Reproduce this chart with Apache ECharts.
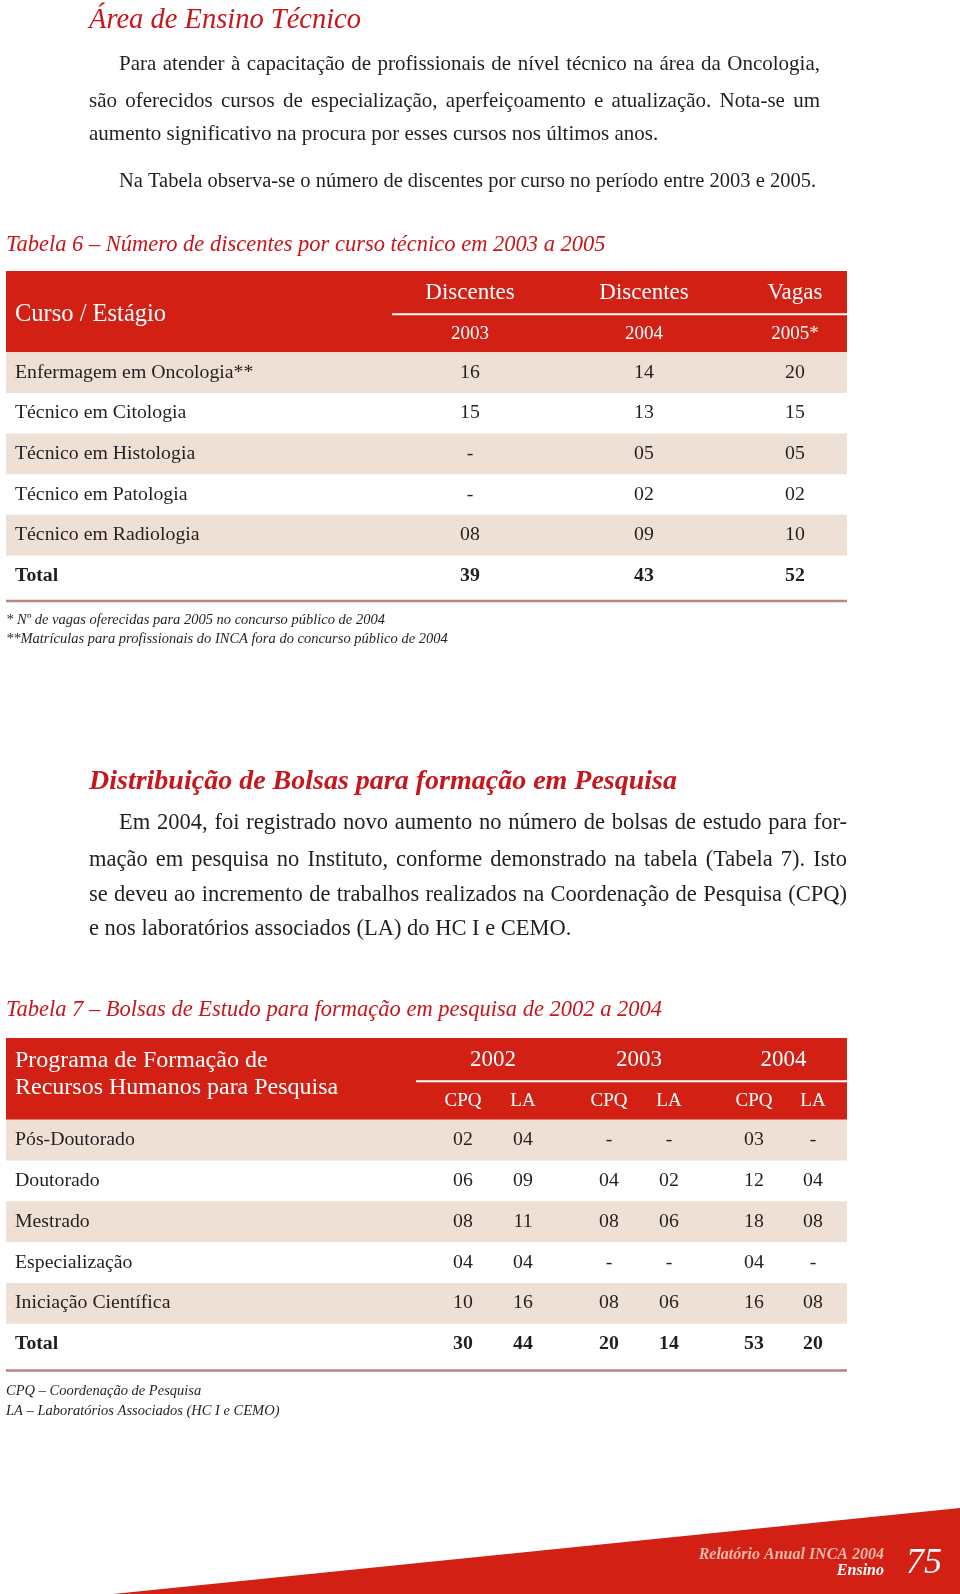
<!DOCTYPE html>
<html>
<head>
<meta charset="utf-8">
<title>Ensino Técnico - Tabelas 6 e 7</title>
<script src="https://cdn.jsdelivr.net/npm/echarts@6/dist/echarts.min.js"></script>
<style>
  html, body { margin: 0; background: #fff; }
  #chart { width: 960px; height: 1594px; }
</style>
</head>
<body>
<div id="chart"></div>
<script>
// Tabela 6 - discentes por curso técnico
const cursos = ['Enfermagem em Oncologia**', 'Técnico em Citologia', 'Técnico em Histologia', 'Técnico em Patologia', 'Técnico em Radiologia', 'Total']
const discentes2003 = [16, 15, null, null, 8, 39]
const discentes2004 = [14, 13, 5, 2, 9, 43]
const vagas2005 = [20, 15, 5, 2, 10, 52]
const cabecalho6 = ['Discentes', 'Discentes', 'Vagas']
const anos6 = ['2003', '2004', '2005*']

// Tabela 7 - bolsas de estudo
const programas = ['Pós-Doutorado', 'Doutorado', 'Mestrado', 'Especialização', 'Iniciação Científica', 'Total']
const cpq2002 = [2, 6, 8, 4, 10, 30]
const la2002 = [4, 9, 11, 4, 16, 44]
const cpq2003 = [null, 4, 8, null, 8, 20]
const la2003 = [null, 2, 6, null, 6, 14]
const cpq2004 = [3, 12, 18, 4, 16, 53]
const la2004 = [null, 4, 8, null, 8, 20]
const anos7 = ['2002', '2003', '2004']
const sub7 = ['CPQ', 'LA', 'CPQ', 'LA', 'CPQ', 'LA']

const RED = '#d22114'
const BEIGE = '#eee0d4'
const INK = '#231f20'
const SERIF = '"Liberation Serif", "DejaVu Serif", serif'

// column centres, in table pixels from the left edge
const cols6 = [464, 638, 789]
const cols7 = [457, 517, 603, 663, 748, 807]

const fmt = (v) => (v == null ? '-' : String(v).padStart(2, '0'))

const txt = (text, x, y, font, fill, align) => ({
  type: 'text',
  style: { text, x, y, font, fill: fill || INK, align: align || 'left', verticalAlign: 'middle' }
})

// justified line: spread the words between x0 and x1
const measure = document.createElement('canvas').getContext('2d')
function justified(text, x0, x1, y, font) {
  measure.font = font
  const words = text.split(' ')
  const widths = words.map((w) => measure.measureText(w).width)
  const gap = (x1 - x0 - widths.reduce((a, b) => a + b, 0)) / (words.length - 1)
  let x = x0
  return words.map((w, i) => {
    const el = txt(w, x, y, font)
    x += widths[i] + gap
    return el
  })
}

function tableItem(params, api, opt) {
  const idx = api.value(0)
  const band = api.size([0, 1])[1]
  const cs = params.coordSys
  const top = api.coord([0, idx])[1] - band / 2
  const cx = (v) => api.coord([v, idx])[0]
  const kids = []
  if (idx === 0) {
    kids.push({ type: 'rect', shape: { x: cs.x, y: top, width: cs.width, height: band * 2 }, style: { fill: RED } })
    kids.push({
      type: 'line',
      shape: { x1: cx(opt.sepFrom), y1: top + band + 2.5, x2: cs.x + cs.width, y2: top + band + 2.5 },
      style: { stroke: '#fff', lineWidth: 2 }
    })
    opt.header(kids, cx, top, band)
  } else {
    const r = params.dataIndex - 1
    if (r % 2 === 0) {
      kids.push({ type: 'rect', shape: { x: cs.x, y: top, width: cs.width, height: band }, style: { fill: BEIGE } })
    }
    const total = r === opt.labels.length - 1
    const font = (total ? 'bold ' : '') + '19.8px ' + SERIF
    const y = top + band / 2
    kids.push(txt(opt.labels[r], cx(9), y, font))
    opt.values.forEach((arr, i) => kids.push(txt(fmt(arr[r]), cx(opt.cols[i]), y, font, INK, 'center')))
    if (total) {
      kids.push({
        type: 'line',
        shape: { x1: cs.x, y1: top + band + opt.rule, x2: cs.x + cs.width, y2: top + band + opt.rule },
        style: { stroke: '#b98481', lineWidth: 2.5 }
      })
    }
  }
  return { type: 'group', children: kids }
}

const table6 = {
  labels: cursos,
  values: [discentes2003, discentes2004, vagas2005],
  cols: cols6,
  sepFrom: 386,
  rule: 5,
  header(kids, cx, top, band) {
    kids.push(txt('Curso / Estágio', cx(9), top + band + 3, '24.5px ' + SERIF, '#fff'))
    cabecalho6.forEach((h, i) => kids.push(txt(h, cx(cols6[i]), top + band / 2 + 2, '23px ' + SERIF, '#fff', 'center')))
    anos6.forEach((h, i) => kids.push(txt(h, cx(cols6[i]), top + band * 1.5 + 2, '19px ' + SERIF, '#fff', 'center')))
  }
}

const table7 = {
  labels: programas,
  values: [cpq2002, la2002, cpq2003, la2003, cpq2004, la2004],
  cols: cols7,
  sepFrom: 410,
  rule: 6,
  header(kids, cx, top, band) {
    kids.push(txt('Programa de Formação de', cx(9), top + band / 2 + 2, '24px ' + SERIF, '#fff'))
    kids.push(txt('Recursos Humanos para Pesquisa', cx(9), top + band + 9, '24px ' + SERIF, '#fff'))
    anos7.forEach((h, i) => {
      const mid = (cx(cols7[i * 2]) + cx(cols7[i * 2 + 1])) / 2
      kids.push(txt(h, mid, top + band / 2 + 2, '23px ' + SERIF, '#fff', 'center'))
    })
    sub7.forEach((h, i) => kids.push(txt(h, cx(cols7[i]), top + band * 1.5 + 2, '19px ' + SERIF, '#fff', 'center')))
  }
}

const rowsOf = (labels) => [[0]].concat(labels.map((_, i) => [i + 2]))

const P1 = '21px ' + SERIF
const P2 = '22.5px ' + SERIF
const page = [
  txt('Área de Ensino Técnico', 89, 21, 'italic 28.5px ' + SERIF, '#c8161d'),
  ...justified('Para atender à capacitação de profissionais de nível técnico na área da Oncologia,', 119, 820, 64, P1),
  ...justified('são oferecidos cursos de especialização, aperfeiçoamento e atualização. Nota-se um', 89, 820, 101, P1),
  txt('aumento significativo na procura por esses cursos nos últimos anos.', 89, 134, P1),
  txt('Na Tabela observa-se o número de discentes por curso no período entre 2003 e 2005.', 119, 182, '20.5px ' + SERIF),
  txt('Tabela 6 – Número de discentes por curso técnico em 2003 a 2005', 6, 245, 'italic 22.5px ' + SERIF, '#c8161d'),
  txt('* Nº de vagas oferecidas para 2005 no concurso público de 2004', 6, 620, 'italic 14.5px ' + SERIF),
  txt('**Matrículas para profissionais do INCA fora do concurso público de 2004', 6, 639, 'italic 14.5px ' + SERIF),
  txt('Distribuição de Bolsas para formação em Pesquisa', 89, 782, 'bold italic 28px ' + SERIF, '#c8161d'),
  ...justified('Em 2004, foi registrado novo aumento no número de bolsas de estudo para for-', 119, 847, 823, P2),
  ...justified('mação em pesquisa no Instituto, conforme demonstrado na tabela (Tabela 7). Isto', 89, 847, 860, P2),
  ...justified('se deveu ao incremento de trabalhos realizados na Coordenação de Pesquisa (CPQ)', 89, 847, 895, P2),
  txt('e nos laboratórios associados (LA) do HC I e CEMO.', 89, 929, P2),
  txt('Tabela 7 – Bolsas de Estudo para formação em pesquisa de 2002 a 2004', 6, 1010, 'italic 22.5px ' + SERIF, '#c8161d'),
  txt('CPQ – Coordenação de Pesquisa', 6, 1391, 'italic 14.5px ' + SERIF),
  txt('LA – Laboratórios Associados (HC I e CEMO)', 6, 1411, 'italic 14.5px ' + SERIF),
  { type: 'polygon', shape: { points: [[113, 1594], [960, 1508], [960, 1594]] }, style: { fill: RED } },
  txt('Relatório Anual INCA 2004', 884, 1555, 'bold italic 16px ' + SERIF, '#f4b9ad', 'right'),
  txt('Ensino', 884, 1571, 'bold italic 16px ' + SERIF, '#fff', 'right'),
  txt('75', 906, 1564, 'italic 36px ' + SERIF, '#fff', 'left')
]

const chart = echarts.init(document.getElementById('chart'))
chart.setOption({
  animation: false,
  backgroundColor: '#fff',
  grid: [
    { left: 6, top: 271, width: 841, height: 325 },
    { left: 6, top: 1038, width: 841, height: 326.5 }
  ],
  xAxis: [
    { type: 'value', gridIndex: 0, min: 0, max: 841, show: false },
    { type: 'value', gridIndex: 1, min: 0, max: 841, show: false }
  ],
  yAxis: [
    { type: 'category', gridIndex: 0, inverse: true, show: false, data: ['cab', 'sub'].concat(cursos) },
    { type: 'category', gridIndex: 1, inverse: true, show: false, data: ['cab', 'sub'].concat(programas) }
  ],
  series: [
    {
      type: 'custom', xAxisIndex: 0, yAxisIndex: 0, silent: true,
      encode: { y: 0 },
      data: rowsOf(cursos),
      renderItem: (p, api) => tableItem(p, api, table6)
    },
    {
      type: 'custom', xAxisIndex: 1, yAxisIndex: 1, silent: true,
      encode: { y: 0 },
      data: rowsOf(programas),
      renderItem: (p, api) => tableItem(p, api, table7)
    }
  ],
  graphic: page
})
</script>
</body>
</html>
